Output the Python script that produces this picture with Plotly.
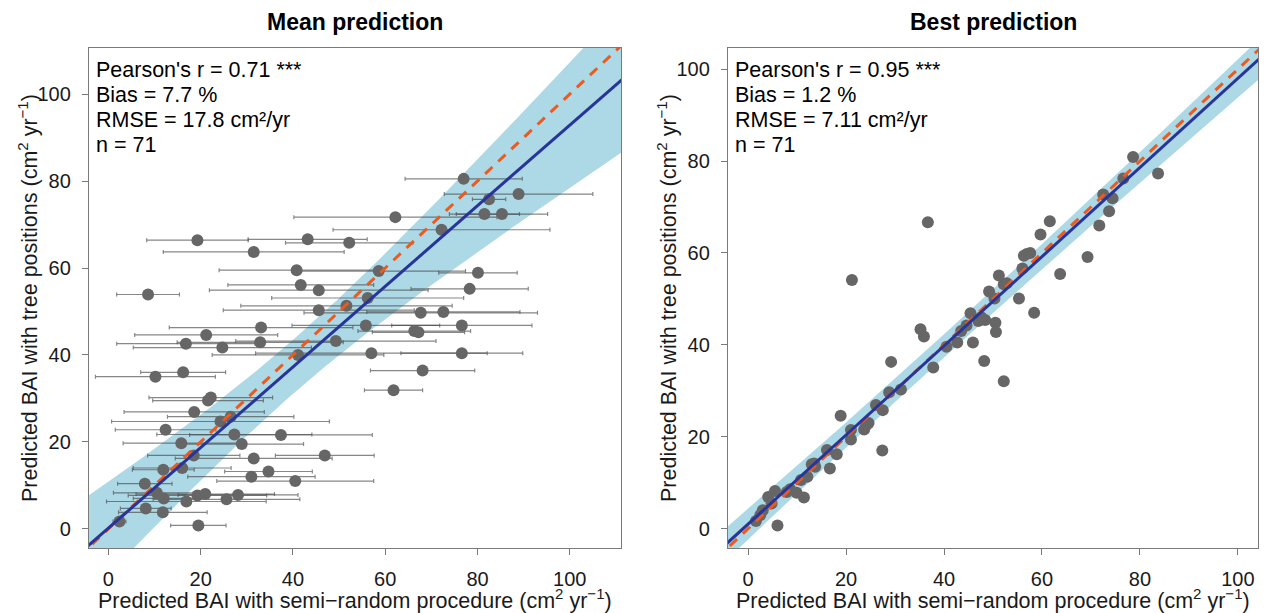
import numpy as np
import plotly.graph_objects as go

# ---------------- data: Mean prediction (x, y, x error) ----------------
mean_x = [77.0, 88.9, 82.5, 81.5, 85.3, 62.2, 72.2, 19.3, 43.2, 52.2,
          31.5, 58.6, 40.8, 80.1, 41.7, 78.3, 45.6, 8.6, 56.2, 51.6,
          45.6, 67.7, 72.6, 55.8, 76.6, 66.3, 67.2, 33.1, 21.2, 16.8,
          32.9, 49.3, 24.7, 41.1, 57.0, 76.6, 68.1, 16.2, 10.2, 61.8,
          22.2, 21.6, 18.6, 26.5, 24.3, 12.4, 27.3, 37.4, 15.8, 28.9,
          18.5, 31.5, 46.9, 11.9, 16.0, 34.7, 31.0, 40.5, 7.9, 10.5,
          12.0, 19.3, 21.0, 28.1, 25.6, 16.9, 8.1, 11.8, 2.4, 19.5]
mean_y = [80.5, 77.0, 75.8, 72.4, 72.4, 71.7, 68.8, 66.4, 66.6, 65.8,
          63.7, 59.3, 59.5, 58.9, 56.1, 55.2, 54.9, 53.9, 53.1, 51.3,
          50.3, 49.7, 49.9, 46.8, 46.8, 45.5, 45.2, 46.3, 44.6, 42.6,
          42.9, 43.2, 41.7, 40.0, 40.4, 40.4, 36.4, 36.0, 35.0, 31.9,
          30.2, 29.5, 26.9, 25.8, 24.7, 22.8, 21.7, 21.6, 19.7, 19.5,
          16.9, 16.2, 16.9, 13.6, 14.0, 13.2, 12.0, 11.0, 10.4, 8.3,
          7.0, 7.7, 8.0, 7.8, 6.8, 6.3, 4.7, 3.8, 1.7, 0.8]
mean_xerr = [12.7, 16.1, 3.6, 7.6, 9.9, 22.0, 23.5, 11.0, 12.9, 13.8,
             19.6, 18.8, 16.8, 8.5, 15.8, 12.7, 23.7, 6.8, 20.8, 22.9,
             20.7, 25.3, 16.6, 16.0, 15.2, 12.2, 10.0, 19.9, 15.5, 15.0,
             18.0, 21.7, 19.3, 18.6, 25.1, 13.2, 11.3, 9.2, 13.0, 6.3,
             13.4, 12.0, 15.2, 13.7, 23.6, 10.9, 16.8, 19.8, 12.6, 13.4,
             10.0, 17.0, 10.7, 6.7, 10.6, 9.5, 13.8, 17.0, 5.9, 9.4,
             6.6, 15.0, 15.0, 13.0, 15.9, 17.3, 5.5, 9.6, 1.4, 6.0]

# ---------------- data: Best prediction ----------------
best_x = [36.7, 21.2, 49.2, 45.4, 47.0, 48.4, 35.2, 35.9, 43.5, 40.5,
          42.7, 45.9, 29.2, 48.2, 37.8, 28.8, 31.2, 18.9, 26.1, 27.5,
          21.0, 21.0, 23.7, 24.1, 27.4, 16.1, 18.1, 16.7, 13.0, 13.5,
          10.8, 12.1, 11.4, 9.9, 7.9, 5.5, 4.1, 4.8, 3.0, 1.6,
          6.0, 78.6, 83.7, 76.6, 72.5, 74.4, 73.7, 71.7, 61.6, 59.7,
          69.3, 56.9, 57.6, 56.3, 56.0, 63.7, 51.2, 52.2, 50.3, 55.3,
          58.4, 50.5, 50.6, 52.2, 13.7, 8.6, 24.6, 44.6, 2.5, 47.6,
          52.8]
best_y = [66.7, 54.1, 51.6, 46.9, 45.2, 45.4, 43.4, 41.8, 43.0, 39.6,
          40.5, 40.5, 36.3, 36.5, 35.1, 29.7, 30.3, 24.6, 26.9, 25.8,
          21.5, 19.4, 21.6, 22.5, 17.0, 17.1, 16.2, 13.1, 14.0, 14.2,
          10.6, 11.3, 6.8, 7.8, 8.0, 8.2, 6.9, 5.5, 4.0, 1.7,
          0.7, 80.9, 77.3, 76.2, 72.7, 71.9, 69.1, 66.0, 66.9, 64.0,
          59.1, 59.8, 60.0, 59.4, 56.6, 55.4, 55.1, 53.2, 50.1, 50.1,
          47.0, 44.8, 42.8, 32.1, 13.5, 8.6, 23.0, 44.2, 3.0, 46.0,
          53.4]

# fitted regression lines and confidence-band parameters
mean_fit = dict(intercept=0.16, slope=0.927, se0=6.2, se1=0.2163, xm=40.0)
best_fit = dict(intercept=1.0, slope=0.97, se0=2.5, se1=0.055, xm=40.0)

mean_stats = ["Pearson's r = 0.71 ***", "Bias = 7.7 %", "RMSE = 17.8 cm²/yr", "n = 71"]
best_stats = ["Pearson's r = 0.95 ***", "Bias = 1.2 %", "RMSE = 7.11 cm²/yr", "n = 71"]

mean_range_x = [-4.2, 111.1]
mean_range_y = [-4.4, 110.6]
best_range_x = [-4.1, 104.1]
best_range_y = [-4.2, 104.6]
tick_vals = [0, 20, 40, 60, 80, 100]

FONT = "Liberation Sans, Arial, Helvetica, sans-serif"
BAND = "#ADD8E6"
BLUE = "#27359A"
ORANGE = "#EC5A1E"
PT = "#666666"

fig = go.Figure()


def add_panel(xa, ya, xs, ys, fit, xrange, xerr=None):
    g = np.linspace(xrange[0] - 5, xrange[1] + 5, 200)
    line = fit["intercept"] + fit["slope"] * g
    hw = np.sqrt(fit["se0"] ** 2 + (fit["se1"] * (g - fit["xm"])) ** 2)
    fig.add_trace(go.Scatter(
        x=np.concatenate([g, g[::-1]]), y=np.concatenate([line + hw, (line - hw)[::-1]]),
        fill="toself", fillcolor=BAND, line=dict(width=0), mode="lines",
        hoverinfo="skip", showlegend=False, xaxis=xa, yaxis=ya))
    err = None
    if xerr is not None:
        err = dict(type="data", array=xerr, visible=True, color="rgba(70,70,70,0.65)",
                   thickness=1.2, width=2)
    fig.add_trace(go.Scatter(
        x=xs, y=ys, mode="markers", error_x=err,
        marker=dict(color=PT, size=12, line=dict(width=0)),
        showlegend=False, xaxis=xa, yaxis=ya, cliponaxis=True))
    fig.add_trace(go.Scatter(
        x=g, y=g, mode="lines", line=dict(color=ORANGE, width=3, dash="10px,8px"),
        showlegend=False, xaxis=xa, yaxis=ya))
    fig.add_trace(go.Scatter(
        x=g, y=line, mode="lines", line=dict(color=BLUE, width=3),
        showlegend=False, xaxis=xa, yaxis=ya))


add_panel("x", "y", mean_x, mean_y, mean_fit, mean_range_x, mean_xerr)
add_panel("x2", "y2", best_x, best_y, best_fit, best_range_x)

axis_common = dict(
    showline=True, mirror=True, linecolor="#7a7a7a", linewidth=1.3,
    ticks="outside", ticklen=6, tickcolor="#7a7a7a", tickwidth=1.3,
    tickvals=tick_vals, showgrid=False, zeroline=False,
    tickfont=dict(family=FONT, size=20, color="#1a1a1a"),
    ticklabelstandoff=7,
)

W, H = 1271, 613
L, R, T, B = 89, 13, 48, 65
pw = W - L - R
d1 = [0, 532 / pw]
d2 = [639 / pw, 1]

fig.update_layout(
    width=W, height=H,
    margin=dict(l=L, r=R, t=T, b=B),
    paper_bgcolor="white", plot_bgcolor="white",
    font=dict(family=FONT, color="#1a1a1a"),
    xaxis=dict(domain=d1, range=mean_range_x, anchor="y", **axis_common),
    yaxis=dict(domain=[0, 1], range=mean_range_y, anchor="x", **axis_common),
    xaxis2=dict(domain=d2, range=best_range_x, anchor="y2", **axis_common),
    yaxis2=dict(domain=[0, 1], range=best_range_y, anchor="x2", **axis_common),
)

xt = "Predicted BAI with semi\u2212random procedure (cm<sup>2</sup> yr<sup>\u22121</sup>)"
yt = "Predicted BAI with tree positions (cm<sup>2</sup> yr<sup>\u22121</sup>)"
ann = []
for xr, yr, title, stats in [("x", "y", "Mean prediction", mean_stats),
                             ("x2", "y2", "Best prediction", best_stats)]:
    ann.append(dict(xref=xr + " domain", yref=yr + " domain", x=0.5, y=1, yanchor="bottom",
                    yshift=11, text="<b>" + title + "</b>", showarrow=False,
                    font=dict(family=FONT, size=23, color="black")))
    for i, s in enumerate(stats):
        ann.append(dict(xref=xr + " domain", yref=yr + " domain", x=0, y=1, xanchor="left",
                        yanchor="middle", xshift=5, yshift=-22 - 25 * i, text=s, showarrow=False,
                        font=dict(family=FONT, size=21.5, color="black")))
    ann.append(dict(xref=xr + " domain", yref=yr + " domain", x=0.5, y=0, yanchor="middle",
                    yshift=-51, text=xt, showarrow=False,
                    font=dict(family=FONT, size=21.5, color="#1a1a1a")))
    ann.append(dict(xref=xr + " domain", yref=yr + " domain", x=0, y=0.5, xanchor="center",
                    xshift=-61, text=yt, showarrow=False, textangle=-90,
                    font=dict(family=FONT, size=21.5, color="#1a1a1a")))
fig.update_layout(annotations=ann)

# remove the browser's default 8px page margin so the figure fills the window exactly
fig.write_html("out.html", config={"displayModeBar": False},
               post_script="document.body.style.margin='0';document.body.style.overflow='hidden';")
